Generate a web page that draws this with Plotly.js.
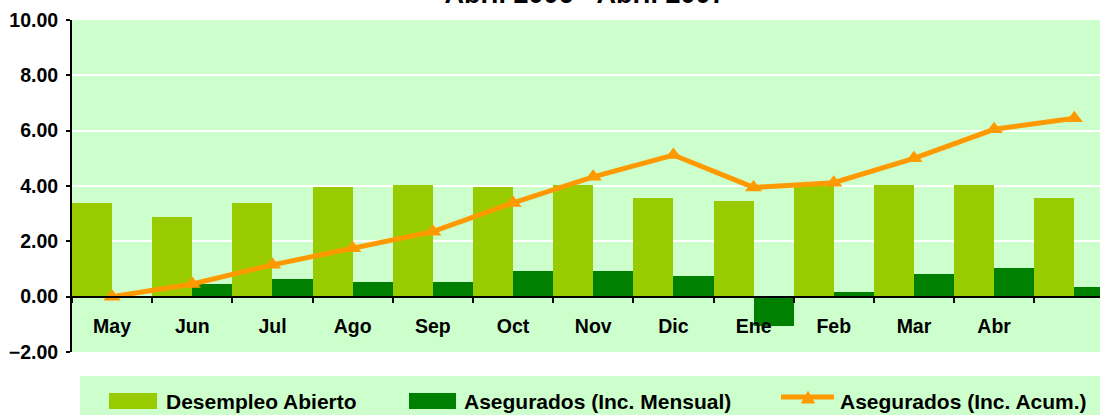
<!DOCTYPE html>
<html><head><meta charset="utf-8">
<script src="https://cdn.plot.ly/plotly-3.0.1.min.js"></script>
<style>html,body{margin:0;padding:0;background:#fff;} #chart{width:1100px;height:415px;}</style>
</head><body><div id="chart"></div>
<script>
const categories = ['May','Jun','Jul','Ago','Sep','Oct','Nov','Dic','Ene','Feb','Mar','Abr','May 07'];
const tickLabels = ['May','Jun','Jul','Ago','Sep','Oct','Nov','Dic','Ene','Feb','Mar','Abr',''];
const desempleoAbierto = [3.39,2.88,3.39,3.96,4.04,3.96,4.04,3.57,3.46,4.00,4.04,4.04,3.58];
const aseguradosMensual = [0.00,0.47,0.65,0.54,0.54,0.94,0.94,0.76,-1.07,0.18,0.83,1.05,0.35];
const aseguradosAcum = [0.00,0.46,1.15,1.75,2.35,3.39,4.33,5.12,3.95,4.12,5.00,6.05,6.45];
const seriesNames = ['Desempleo Abierto','Asegurados (Inc. Mensual)','Asegurados (Inc. Acum.)'];
const titleText = 'Abril 2006 - Abril 2007';
const yTicks = [-2,0,2,4,6,8,10];

const FONT = 'Liberation Sans, Arial, sans-serif';
const C_LIGHT = '#99cc00', C_DARK = '#008000', C_ORANGE = '#ff9900', C_BG = '#ccffcc';

const W = 1100, H = 415;
const M = {l:72, r:0, t:20, b:63};
const PW = W - M.l - M.r, PH = H - M.t - M.b;
const px = v => (v - M.l) / PW;
const py = v => (H - M.b - v) / PH;

const traces = [
  {type:'bar', name:seriesNames[0], x:categories, y:desempleoAbierto, marker:{color:C_LIGHT}, showlegend:false},
  {type:'bar', name:seriesNames[1], x:categories, y:aseguradosMensual, marker:{color:C_DARK}, showlegend:false},
  {type:'scatter', mode:'lines+markers', name:seriesNames[2], x:categories, y:aseguradosAcum,
   line:{color:C_ORANGE, width:5}, marker:{symbol:'triangle-up', size:15, color:C_ORANGE}, showlegend:false}
];

// custom legend (large swatches like the original)
const legY = 401;
const shapes = [
  {type:'rect', xref:'paper', yref:'paper', x0:px(80), x1:px(1110), y0:py(376), y1:py(425), fillcolor:C_BG, line:{width:0}},
  {type:'rect', xref:'paper', yref:'paper', x0:px(109), x1:px(157), y0:py(393), y1:py(409), fillcolor:C_LIGHT, line:{width:0}},
  {type:'rect', xref:'paper', yref:'paper', x0:px(409), x1:px(456), y0:py(393), y1:py(409), fillcolor:C_DARK, line:{width:0}},
  {type:'line', xref:'paper', yref:'paper', x0:px(781), x1:px(834), y0:py(397), y1:py(397), line:{color:C_ORANGE, width:5}},
  {type:'path', xref:'paper', yref:'paper',
   path:`M ${px(801.5)} ${py(403)} L ${px(814.5)} ${py(403)} L ${px(808)} ${py(391.5)} Z`,
   fillcolor:C_ORANGE, line:{color:C_ORANGE, width:1}}
];
const legX = [164, 462, 838];
const annotations = seriesNames.map((n,i)=>({
  xref:'paper', yref:'paper', x:px(legX[i]), y:py(legY), xanchor:'left', yanchor:'middle',
  text:n, showarrow:false, font:{family:FONT, size:21, weight:'bold', color:'#000'}
}));

const layout = {
  width:W, height:H, margin:M,
  paper_bgcolor:'#ffffff', plot_bgcolor:C_BG,
  showlegend:false,
  barmode:'group', bargap:0, bargroupgap:0,
  title:{text:titleText, font:{family:FONT, size:27, weight:'bold', color:'#000'},
         x:585/W, xanchor:'center', xref:'container', y:1-3/H, yanchor:'bottom', yref:'container'},
  xaxis:{type:'category', range:[-0.5, 12.32], tickmode:'array', tickvals:categories, ticktext:tickLabels,
         tickson:'boundaries', ticks:'outside', ticklen:5, tickwidth:2, tickcolor:'#000',
         showline:true, linecolor:'#000', linewidth:2, showgrid:false, zeroline:false,
         anchor:'free', position:2/12, ticklabelstandoff:12,
         tickfont:{family:FONT, size:19.5, weight:'bold', color:'#000'}},
  yaxis:{range:[-2,10], tickmode:'array', tickvals:yTicks, tickformat:'.2f',
         ticks:'outside', ticklen:4, tickwidth:2, tickcolor:'#000',
         showline:true, linecolor:'#000', linewidth:2, zeroline:false,
         showgrid:true, gridcolor:'#ffffff', gridwidth:2, ticklabelstandoff:4,
         tickfont:{family:FONT, size:19.5, weight:'bold', color:'#000'}},
  shapes:shapes, annotations:annotations
};

Plotly.newPlot('chart', traces, layout, {displayModeBar:false, staticPlot:true});
</script>
</body></html>
